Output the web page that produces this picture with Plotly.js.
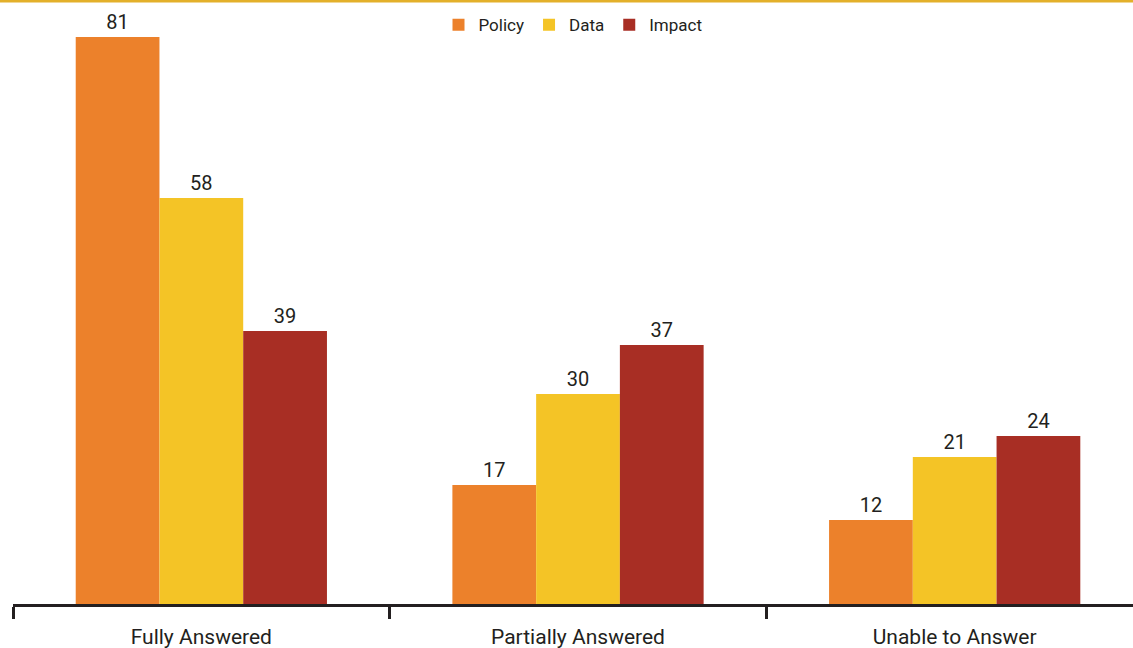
<!DOCTYPE html>
<html>
<head>
<meta charset="utf-8">
<script src="https://cdn.plot.ly/plotly-3.0.1.min.js"></script>
<style>
  html, body { margin: 0; padding: 0; background: #ffffff; overflow: hidden; }
  #chart { width: 1133px; height: 648px; }
</style>
</head>
<body>
<div id="chart"></div>
<script>
// Response status categories and counts per question type
const categories = ["Fully Answered", "Partially Answered", "Unable to Answer"];
const policyValues = [81, 17, 12];
const dataValues = [58, 30, 21];
const impactValues = [39, 37, 24];

const seriesNames = ["Policy", "Data", "Impact"];
const seriesColors = ["#ec812b", "#f4c426", "#a82e24"];
const seriesValues = [policyValues, dataValues, impactValues];

const fontFamily = "Roboto, 'DejaVu Sans', sans-serif";
const inkColor = "#231f20";

const traces = seriesValues.map((vals, i) => ({
  type: "bar",
  name: seriesNames[i],
  x: categories,
  y: vals,
  marker: { color: seriesColors[i] },
  text: vals.map(String),
  textposition: "outside",
  textfont: { family: fontFamily, size: 20, color: inkColor },
  cliponaxis: false,
  hoverinfo: "x+y+name"
}));

const layout = {
  width: 1133,
  height: 648,
  margin: { l: 13, r: 0, t: 20, b: 44, autoexpand: false },
  paper_bgcolor: "#ffffff",
  plot_bgcolor: "#ffffff",
  barmode: "group",
  bargap: 0.333,
  bargroupgap: 0,
  showlegend: true,
  legend: {
    orientation: "h",
    x: 0.5, xanchor: "center",
    y: 0.991, yanchor: "middle",
    font: { family: fontFamily, size: 17, color: inkColor },
    itemwidth: 30,
    bgcolor: "rgba(0,0,0,0)"
  },
  xaxis: {
    type: "category",
    range: [-0.5, 2.4734],
    tickson: "boundaries",
    ticks: "outside",
    ticklen: 12,
    tickwidth: 3,
    tickcolor: inkColor,
    showline: true,
    linewidth: 3,
    linecolor: inkColor,
    showgrid: false,
    zeroline: false,
    ticklabelstandoff: 12,
    tickfont: { family: fontFamily, size: 21, color: inkColor },
    fixedrange: true
  },
  yaxis: {
    range: [0, 83.43],
    visible: false,
    showgrid: false,
    zeroline: false,
    fixedrange: true
  },
  shapes: [{
    type: "line",
    xref: "paper", yref: "paper",
    x0: -0.02, x1: 1.01,
    y0: 1 + 19 / 584, y1: 1 + 19 / 584,
    line: { color: "#e3b02a", width: 3 }
  }]
};

Plotly.newPlot("chart", traces, layout, { displayModeBar: false, staticPlot: true });
</script>
</body>
</html>
